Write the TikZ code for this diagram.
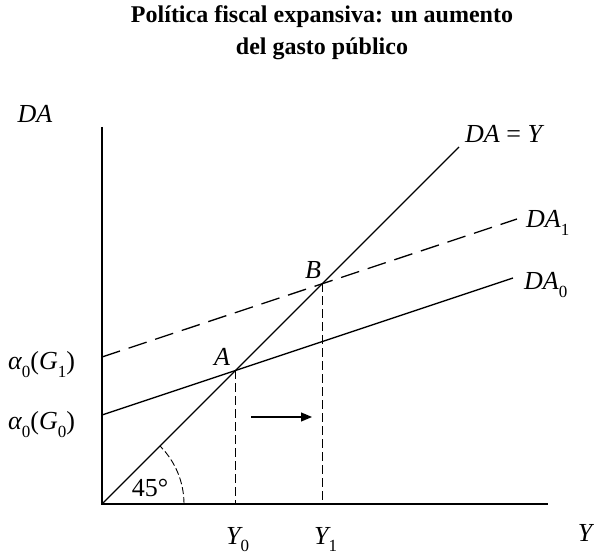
\documentclass[tikz,border=0pt]{standalone}
\usepackage{fontspec}
\setmainfont{Liberation Serif}
\usetikzlibrary{arrows.meta}
\newcommand\lowsub[1]{\raisebox{-0.3em}{\fontsize{17}{17}\selectfont\upshape #1}}
\begin{document}
\begin{tikzpicture}[x=1pt,y=1pt,
  lbl/.style={font=\fontsize{26}{28}\selectfont\itshape, inner sep=0pt},
  ttl/.style={font=\fontsize{24}{32}\selectfont\bfseries, align=center, inner sep=0pt},
  curve/.style={line width=1.3pt},
  axis/.style={line width=1.3pt},
  guide/.style={line width=1pt, dash pattern=on 9pt off 4pt},
  shifted/.style={line width=1.3pt, dash pattern=on 19pt off 9pt},
  anglearc/.style={line width=0.9pt, dash pattern=on 7pt off 3pt},
  move/.style={line width=1.2pt, -{Triangle[length=11pt,width=9pt]}}]
\useasboundingbox (0,0) rectangle (594,554);
% key points
\coordinate (O) at (102,50);
\coordinate (Vtop) at (102,427);
\coordinate (Hend) at (548,50);
\coordinate (Diag) at (459,407);
\coordinate (D0s) at (102,139);
\coordinate (D0e) at (513,276);
\coordinate (D1s) at (102,197);
\coordinate (D1e) at (517,335);
\coordinate (A) at (235.5,183.5);
\coordinate (B) at (322.5,270.5);
\coordinate (Y0f) at (235.5,50);
\coordinate (Y1f) at (322.5,50);
\coordinate (Ar1) at (251,137);
\coordinate (Ar2) at (312,137);
\coordinate (ArcS) at (184,50);
% title
\node[ttl] (title) at (322,521) {Política fiscal expansiva: un aumento\\del gasto público};
% axes
\draw[axis] (Vtop) -- (O) -- (Hend);
% curves
\draw[curve] (O) -- (Diag);
\draw[curve] (D0s) -- (D0e);
\draw[shifted] (D1s) -- (D1e);
% guides
\draw[guide] (A) -- (Y0f);
\draw[guide] (B) -- (Y1f);
% angle arc
\draw[anglearc] (ArcS) arc[start angle=0, end angle=45, radius=82];
% arrow
\draw[move] (Ar1) -- (Ar2);
% labels
\node[lbl] (lDA) at (35,440) {DA};
\node[lbl] (lY) at (585,21) {Y};
\node[lbl, anchor=base west] (lY0) at (226,10) {Y\lowsub{0}};
\node[lbl, anchor=base west] (lY1) at (314,10) {Y\lowsub{1}};
\node[lbl] (lA) at (222,197) {A};
\node[lbl] (lB) at (313,284) {B};
\node[lbl, anchor=base west] (lDAY) at (465,411) {DA {\upshape =} Y};
\node[lbl, anchor=base west] (lDA1) at (526,326) {DA\lowsub{1}};
\node[lbl, anchor=base west] (lDA0) at (524,264) {DA\lowsub{0}};
\node[lbl, font=\fontsize{26}{28}\selectfont] (l45) at (150,66) {45°};
\node[lbl, anchor=base west] (lG1) at (8,184) {α\lowsub{0}{\upshape(}G\lowsub{1}{\upshape)}};
\node[lbl, anchor=base west] (lG0) at (8,124) {α\lowsub{0}{\upshape(}G\lowsub{0}{\upshape)}};
\end{tikzpicture}
\end{document}
